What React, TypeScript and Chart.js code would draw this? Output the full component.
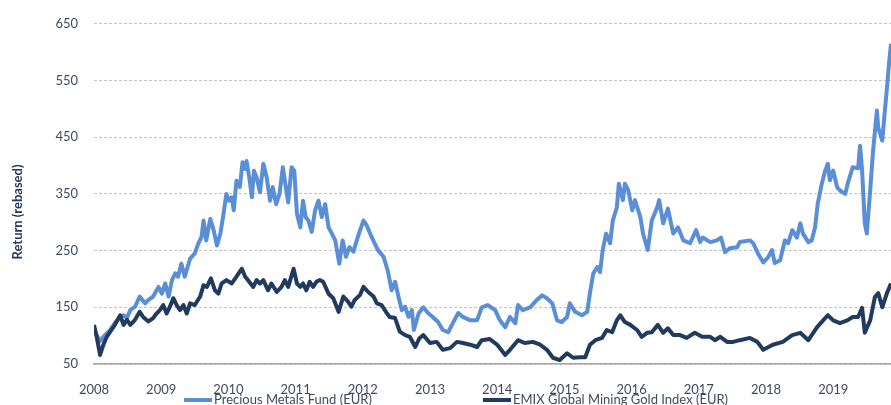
import React, { useEffect, useRef } from "react";
import { Chart, registerables } from "chart.js";

Chart.register(...registerables);

const yearTicks = [2008, 2009, 2010, 2011, 2012, 2013, 2014, 2015, 2016, 2017, 2018, 2019];
const yMin = 50;
const yMax = 650;
const yStep = 100;
const xMin = 2008;
const xMax = 2019.86;

const seriesLabels = ["Precious Metals Fund (EUR)", "EMIX Global Mining Gold Index (EUR)"];
const axisTitle = "Return (rebased)";

const fundDates = [
  2008.0, 2008.09, 2008.16, 2008.24, 2008.31, 2008.39, 2008.44, 2008.49, 2008.54, 2008.61, 2008.68, 2008.76,
  2008.81, 2008.88, 2008.96, 2009.01, 2009.06, 2009.11, 2009.16, 2009.21, 2009.25, 2009.3, 2009.35, 2009.43,
  2009.5, 2009.55, 2009.6, 2009.63, 2009.67, 2009.73, 2009.78, 2009.83, 2009.88, 2009.92, 2009.97, 2010.01,
  2010.05, 2010.08, 2010.12, 2010.17, 2010.21, 2010.25, 2010.27, 2010.31, 2010.35, 2010.38, 2010.42, 2010.47,
  2010.52, 2010.57, 2010.62, 2010.66, 2010.71, 2010.76, 2010.81, 2010.84, 2010.89, 2010.94, 2010.98, 2011.02,
  2011.07, 2011.11, 2011.15, 2011.19, 2011.24, 2011.29, 2011.34, 2011.39, 2011.44, 2011.49, 2011.54, 2011.59,
  2011.65, 2011.7, 2011.75, 2011.8, 2011.86, 2011.91, 2011.96, 2012.01, 2012.06, 2012.12, 2012.18, 2012.23,
  2012.31, 2012.37, 2012.43, 2012.48, 2012.53, 2012.58, 2012.63, 2012.68, 2012.73, 2012.76, 2012.83,
  2012.9, 2012.97, 2013.04, 2013.12, 2013.19,
  2013.27, 2013.34, 2013.42, 2013.49, 2013.6, 2013.7, 2013.77, 2013.86, 2013.97, 2014.04, 2014.12, 2014.19,
  2014.27, 2014.31, 2014.38, 2014.49, 2014.59, 2014.67, 2014.74, 2014.82, 2014.89, 2014.96, 2015.04, 2015.08,
  2015.16, 2015.26, 2015.34, 2015.38, 2015.43, 2015.49, 2015.53, 2015.57, 2015.62, 2015.68, 2015.72, 2015.78,
  2015.81, 2015.87, 2015.9, 2015.95, 2016.01, 2016.05, 2016.13, 2016.17, 2016.24, 2016.3, 2016.38, 2016.41,
  2016.47, 2016.54, 2016.62, 2016.69, 2016.77, 2016.87, 2016.96, 2017.02, 2017.06, 2017.17, 2017.27, 2017.33,
  2017.39, 2017.46, 2017.57, 2017.61, 2017.76, 2017.81, 2017.88, 2017.96, 2018.03, 2018.09, 2018.13, 2018.21,
  2018.28, 2018.33, 2018.39, 2018.46, 2018.51, 2018.55, 2018.63, 2018.68, 2018.73, 2018.77, 2018.83, 2018.88,
  2018.92, 2018.95, 2019.0, 2019.06, 2019.1, 2019.18, 2019.22, 2019.29, 2019.37, 2019.4, 2019.43, 2019.47,
  2019.5, 2019.55, 2019.59, 2019.65, 2019.67, 2019.73, 2019.76, 2019.8, 2019.83, 2019.86,
];
const fundValues = [
  110, 90, 101, 110, 122, 133, 136, 131, 145, 151, 169, 157,
  163, 169, 186, 174, 192, 169, 198, 210, 204, 227, 204, 236,
  245, 262, 274, 303, 268, 306, 286, 259, 280, 309, 350, 338,
  344, 321, 373, 362, 406, 394, 408, 379, 344, 391, 379, 353,
  403, 379, 338, 362, 332, 350, 397, 373, 335, 397, 391, 315,
  291, 338, 309, 303, 283, 321, 338, 309, 332, 291, 280, 268,
  227, 268, 239, 256, 248, 268, 286, 303, 294, 277, 262, 250,
  239, 215, 180, 195, 169, 145, 151, 133, 145, 110, 139,
  150, 140, 133, 124, 110,
  106, 122, 140, 133, 127, 127, 150, 154, 145, 127, 115, 133,
  122, 154, 145, 150, 163, 171, 166, 157, 127, 124, 133, 157,
  142, 136, 142, 175, 210, 221, 212, 251, 280, 263, 303, 326,
  368, 339, 368, 356, 321, 339, 309, 280, 251, 303, 326, 339,
  298, 324, 280, 291, 268, 263, 286, 265, 273, 265, 268, 273,
  247, 254, 256, 265, 268, 263, 245, 229, 238, 251, 228, 233,
  268, 263, 286, 273, 298, 280, 265, 268, 291, 333, 368, 391,
  403, 374, 391, 361, 356, 350, 370, 397, 395, 435, 391, 298,
  280, 356, 421, 497, 467, 444, 485, 537, 579, 615,
];

const indexDates = [
  2008.0, 2008.04, 2008.09, 2008.14, 2008.19, 2008.26, 2008.31, 2008.39, 2008.44, 2008.49, 2008.54, 2008.61,
  2008.68, 2008.73, 2008.81, 2008.88, 2008.93, 2008.98, 2009.03, 2009.08, 2009.13, 2009.18, 2009.23, 2009.28,
  2009.33, 2009.38, 2009.43, 2009.5, 2009.58, 2009.63, 2009.68, 2009.74, 2009.8, 2009.85, 2009.9, 2009.97,
  2010.05, 2010.12, 2010.2, 2010.25, 2010.31, 2010.37, 2010.42, 2010.47, 2010.52, 2010.59, 2010.64, 2010.72,
  2010.79, 2010.84, 2010.89, 2010.97, 2011.02, 2011.07, 2011.11, 2011.16, 2011.21, 2011.26, 2011.31, 2011.36,
  2011.41, 2011.49, 2011.56, 2011.64, 2011.71, 2011.78, 2011.83, 2011.88, 2011.96, 2012.01, 2012.08, 2012.16,
  2012.21, 2012.28, 2012.36, 2012.4, 2012.48, 2012.55, 2012.63, 2012.7, 2012.78, 2012.84,
  2012.9, 2013.0, 2013.1, 2013.19, 2013.3, 2013.4, 2013.49, 2013.6, 2013.7, 2013.77,
  2013.89, 2014.0, 2014.12, 2014.19, 2014.31, 2014.41, 2014.53, 2014.64, 2014.74, 2014.83, 2014.93, 2015.04,
  2015.13, 2015.23, 2015.31, 2015.38, 2015.46, 2015.56, 2015.63, 2015.71, 2015.78, 2015.83, 2015.9, 2015.98,
  2016.08, 2016.15, 2016.23, 2016.3, 2016.39, 2016.47, 2016.54, 2016.62, 2016.72, 2016.82, 2016.94, 2017.05,
  2017.17, 2017.24, 2017.32, 2017.42, 2017.51, 2017.61, 2017.76, 2017.87, 2017.96, 2018.1, 2018.25, 2018.39,
  2018.51, 2018.63, 2018.76, 2018.85, 2018.92, 2019.0, 2019.1, 2019.21, 2019.29, 2019.37, 2019.43, 2019.47,
  2019.55, 2019.62, 2019.67, 2019.73, 2019.8, 2019.86,
];
const indexValues = [
  119, 98, 66, 84, 98, 110, 119, 136, 119, 128, 119, 128,
  142, 133, 125, 131, 139, 145, 154, 139, 151, 166, 154, 145,
  154, 139, 157, 154, 169, 189, 186, 201, 180, 174, 192, 198,
  192, 204, 218, 204, 195, 186, 198, 192, 198, 180, 192, 177,
  186, 198, 186, 218, 192, 186, 192, 180, 195, 186, 195, 198,
  195, 174, 166, 142, 169, 160, 151, 163, 172, 186, 177, 169,
  157, 154, 139, 133, 131, 107, 101, 98, 80, 95,
  101, 87, 89, 75, 78, 89, 87, 84, 80, 92,
  94, 84, 66, 75, 92, 87, 89, 84, 75, 61, 57, 69,
  61, 62, 62, 84, 92, 96, 110, 106, 127, 136, 124, 119,
  110, 98, 105, 106, 119, 105, 113, 101, 101, 96, 105, 98,
  98, 92, 98, 89, 89, 92, 96, 89, 75, 84, 89, 101,
  105, 92, 115, 127, 136, 127, 122, 127, 133, 133, 149, 105,
  127, 168, 175, 150, 175, 192,
];

const fundColor = "#5A8ED6";
const indexColor = "#213B5F";
const tickColor = "#3E4B5E";

export default function App() {
  const canvasRef = useRef<HTMLCanvasElement | null>(null);

  useEffect(() => {
    const canvas = canvasRef.current;
    if (!canvas) return;

    const overlay = {
      id: "overlay",
      afterDraw(chart: any) {
        const ctx = chart.ctx;
        ctx.save();
        ctx.translate(18, 212);
        ctx.rotate(-Math.PI / 2);
        ctx.font = "bold 13px Lato";
        ctx.fillStyle = "#23395B";
        ctx.textAlign = "center";
        ctx.textBaseline = "middle";
        ctx.fillText(axisTitle, 0, 0);
        ctx.restore();

        const items = [
          { x: 184, color: fundColor, label: seriesLabels[0] },
          { x: 483, color: indexColor, label: seriesLabels[1] },
        ];
        ctx.save();
        ctx.font = "13px Lato";
        ctx.textBaseline = "middle";
        ctx.textAlign = "left";
        for (const it of items) {
          ctx.strokeStyle = it.color;
          ctx.lineWidth = 4;
          ctx.beginPath();
          ctx.moveTo(it.x, 400);
          ctx.lineTo(it.x + 28, 400);
          ctx.stroke();
          ctx.fillStyle = "#3E4B5E";
          ctx.fillText(it.label, it.x + 30, 400);
        }
        ctx.restore();
      },
    };

    const chart = new Chart(canvas, {
      type: "line",
      data: {
        datasets: [
          {
            label: seriesLabels[0],
            data: fundDates.map((d, i) => ({ x: d, y: fundValues[i] })),
            borderColor: fundColor,
            backgroundColor: fundColor,
            borderWidth: 4,
            pointRadius: 0,
            tension: 0,
            borderJoinStyle: "round",
            order: 1,
          },
          {
            label: seriesLabels[1],
            data: indexDates.map((d, i) => ({ x: d, y: indexValues[i] })),
            borderColor: indexColor,
            backgroundColor: indexColor,
            borderWidth: 4,
            pointRadius: 0,
            tension: 0,
            borderJoinStyle: "round",
            order: 0,
          },
        ],
      },
      options: {
        responsive: false,
        animation: false,
        layout: { padding: { top: 23, left: 0, right: 0, bottom: 0 } },
        plugins: { legend: { display: false }, tooltip: { enabled: false } },
        scales: {
          x: {
            type: "linear",
            min: xMin,
            max: xMax,
            afterBuildTicks: (scale: any) => {
              scale.ticks = yearTicks.map((v) => ({ value: v }));
            },
            afterFit: (scale: any) => {
              scale.height = 41;
            },
            grid: { display: false },
            border: { display: true, color: "#A6A6A6", width: 1.5 },
            ticks: {
              autoSkip: false,
              maxRotation: 0,
              padding: 10,
              color: tickColor,
              font: { family: "Lato", size: 13 },
              callback: (v: any) => String(v),
            },
          },
          y: {
            type: "linear",
            min: yMin,
            max: yMax,
            afterFit: (scale: any) => {
              scale.width = 94;
            },
            grid: { color: "#C4C4C4", lineWidth: 1, drawTicks: false },
            border: { display: false, dash: [3, 2] },
            ticks: {
              stepSize: yStep,
              padding: 16,
              color: tickColor,
              font: { family: "Lato", size: 13 },
              callback: (v: any) => String(v),
            },
          },
        },
      },
      plugins: [overlay],
    });

    return () => chart.destroy();
  }, []);

  return (
    <div style={{ position: "absolute", left: 0, top: 0, width: 891, height: 405, background: "#fff" }}>
      <canvas ref={canvasRef} width={891} height={405} />
    </div>
  );
}
